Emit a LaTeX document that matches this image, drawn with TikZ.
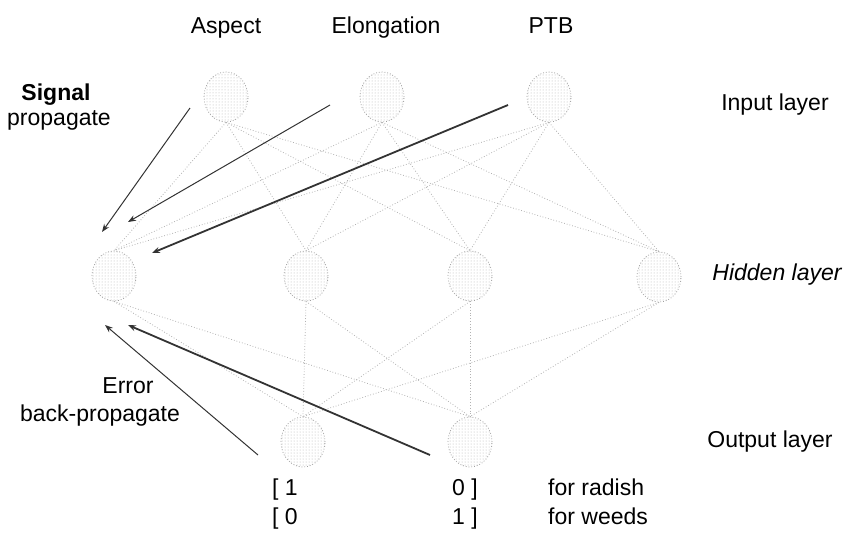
\documentclass[tikz,border=0pt]{standalone}
\usepackage{fontspec}
\setmainfont{Liberation Sans}
\usetikzlibrary{arrows.meta,patterns,shapes.geometric}
\begin{document}
\begin{tikzpicture}[x=1pt,y=-1pt,
  neuron/.style={ellipse,minimum width=44pt,minimum height=50pt,inner sep=0pt,
    draw=gray!75,dotted,line width=0.8pt,pattern=dots,pattern color=gray!60},
  link/.style={draw=gray!60,dotted,line width=0.8pt},
  sig/.style={-{Stealth[length=8pt,width=6pt]},draw=black!80,line width=1pt},
  sigthick/.style={sig,line width=1.8pt},
  lbl/.style={font=\fontsize{23}{27}\selectfont,inner sep=0pt,anchor=base}
]
\useasboundingbox (0,0) rectangle (848,552);
% input layer
\node[neuron] (i1) at (226,97) {};
\node[neuron] (i2) at (382,97) {};
\node[neuron] (i3) at (549,97) {};
% hidden layer
\node[neuron] (h1) at (114,276) {};
\node[neuron] (h2) at (306,276) {};
\node[neuron] (h3) at (470,276) {};
\node[neuron] (h4) at (659,277) {};
% output layer
\node[neuron] (o1) at (303,442) {};
\node[neuron] (o2) at (470,442) {};
% links
\foreach \a in {i1,i2,i3}{\foreach \b in {h1,h2,h3,h4}{\draw[link] (\a.south) -- (\b.north);}}
\foreach \a in {h1,h2,h3,h4}{\foreach \b in {o1,o2}{\draw[link] (\a.south) -- (\b.north);}}
% arrows
\coordinate (s1a) at (190,108); \coordinate (s1b) at (102,232);
\coordinate (s2a) at (330,105); \coordinate (s2b) at (128,222);
\coordinate (s3a) at (508,105); \coordinate (s3b) at (152,253);
\coordinate (e1a) at (258,455); \coordinate (e1b) at (105,325);
\coordinate (e2a) at (430,455); \coordinate (e2b) at (128,325);
\draw[sig] (s1a) -- (s1b);
\draw[sig] (s2a) -- (s2b);
\draw[sigthick] (s3a) -- (s3b);
\draw[sig] (e1a) -- (e1b);
\draw[sigthick] (e2a) -- (e2b);
% labels
\node[lbl] (tA) at (226,33) {Aspect};
\node[lbl] (tE) at (386,33) {Elongation};
\node[lbl] (tP) at (551,33) {PTB};
\node[lbl] (tIn) at (775,110) {Input layer};
\node[lbl,font=\fontsize{23}{27}\selectfont\itshape] (tHid) at (777,280) {Hidden layer};
\node[lbl] (tOut) at (770,447) {Output layer};
\node[lbl,font=\fontsize{23}{27}\selectfont\bfseries] (tSig) at (56,100) {Signal};
\node[lbl] (tProp) at (59,125) {propagate};
\node[lbl] (tErr) at (128,393) {Error};
\node[lbl] (tBack) at (100,421) {back-propagate};
\node[lbl,anchor=base west] (r1a) at (272,495) {[ 1};
\node[lbl,anchor=base east] (r1b) at (478,495) {0 ]};
\node[lbl,anchor=base west] (r1c) at (548,495) {for radish};
\node[lbl,anchor=base west] (r2a) at (272,524) {[ 0};
\node[lbl,anchor=base east] (r2b) at (478,524) {1 ]};
\node[lbl,anchor=base west] (r2c) at (548,524) {for weeds};
\end{tikzpicture}
\end{document}
